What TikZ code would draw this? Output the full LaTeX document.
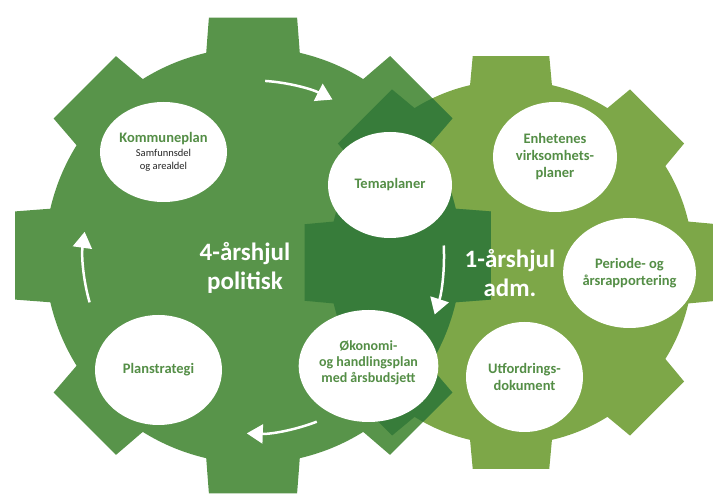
\documentclass[tikz,border=0pt]{standalone}
\usepackage{fontspec}
\setmainfont{Carlito}
\usetikzlibrary{arrows.meta,shapes.geometric}

\definecolor{gearleft}{RGB}{88,148,74}
\definecolor{gearright}{RGB}{125,167,72}
\definecolor{gearboth}{RGB}{55,124,58}
\definecolor{ovaltext}{RGB}{84,142,70}

% outline of one cog wheel: body radius #1, tooth radius #2
\newcommand{\cogpath}[2]{(-13:#1pt) \foreach \a in {0,45,...,315} { -- (\a-10.5:#2pt) -- (\a+10.5:#2pt) -- (\a+13:#1pt) arc[start angle=\a+13, end angle=\a+32, radius=#1pt] } -- cycle}
\newcommand{\subtxt}{\mdseries\fontsize{10.5}{12}\selectfont\color{black!85}}

\tikzset{
  oval/.style={ellipse, fill=white, inner sep=0pt, align=center, text=ovaltext,
    font=\bfseries\fontsize{14.5}{17}\selectfont},
  hjul/.style={align=center, text=white, font=\bfseries\fontsize{25}{29.5}\selectfont},
  flow/.style={draw=white, line width=2.5pt, -{Triangle[length=16pt,width=19pt]}}
}

\begin{document}
\begin{tikzpicture}[x=1pt,y=1pt]
 \useasboundingbox (0,0) rectangle (713,501);
 \clip (0,0) rectangle (713,501);
 \coordinate (lg) at (253,245.5);
 \coordinate (rg) at (511,238.5);
 % the two wheels and their overlap
 \fill[gearright, shift={(rg)}] \cogpath{182}{210};
 \fill[gearleft, shift={(lg)}] \cogpath{208}{242};
 \begin{scope}
  \clip[shift={(rg)}] \cogpath{182}{210};
  \fill[gearboth, shift={(lg)}] \cogpath{208}{242};
 \end{scope}
 % steps on the 4-year wheel
 \node[oval, minimum width=127pt, minimum height=100pt] (komm) at (163.5,349) {Kommuneplan\\[-3pt]{\subtxt Samfunnsdel}\\[-4pt]{\subtxt og arealdel}};
 \node[oval, minimum width=124pt, minimum height=106pt] (tema) at (390,316) {Temaplaner};
 \node[oval, minimum width=123pt, minimum height=112pt, font=\bfseries\fontsize{14}{16}\selectfont] (okon) at (368.5,135) {Økonomi-\\og handlingsplan\\med årsbudsjett\\[-8pt]};
 \node[oval, minimum width=127pt, minimum height=110pt] (plan) at (158.5,131) {Planstrategi};
 % steps on the 1-year wheel
 \node[oval, minimum width=124pt, minimum height=110pt] (enhet) at (555,344) {Enhetenes\\virksomhets-\\planer};
 \node[oval, minimum width=125pt, minimum height=110pt] (peri) at (629.5,228) {Periode- og\\årsrapportering};
 \node[oval, minimum width=117pt, minimum height=110pt] (utf) at (524.5,124) {Utfordrings-\\dokument};
 % wheel names
 \node[hjul] (fire) at (245,233) {4-årshjul\\politisk};
 \node[hjul] (en) at (510,228) {1-årshjul\\adm.};
 % turning arrows
 \draw[flow] ([shift={(86:175pt)}]lg) arc[start angle=86, end angle=63, radius=175pt];
 \draw[flow] ([shift={(3:191pt)}]lg) arc[start angle=3, end angle=-18, radius=191pt];
 \draw[flow] ([shift={(-69:178pt)}]lg) arc[start angle=-69, end angle=-92, radius=178pt];
 \draw[flow] ([shift={(196:170pt)}]lg) arc[start angle=196, end angle=172, radius=170pt];
\end{tikzpicture}
\end{document}
